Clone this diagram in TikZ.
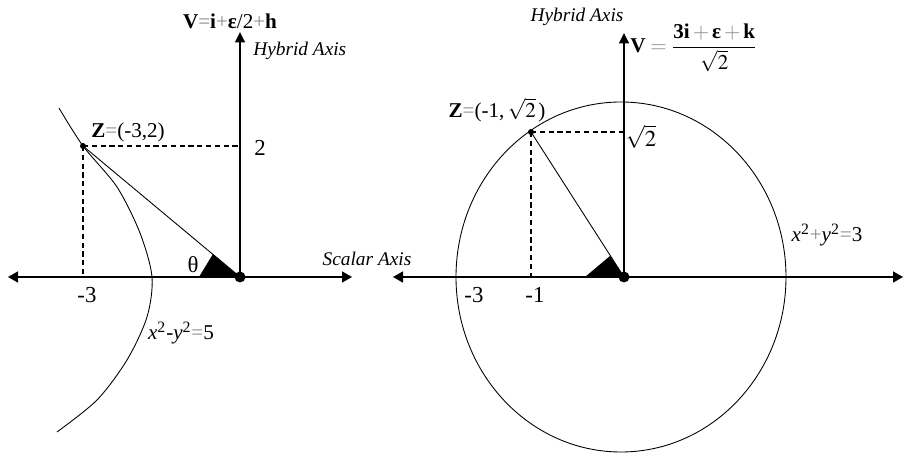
\documentclass[tikz,border=0pt]{standalone}
\usepackage{mathptmx}
\usepackage[no-math]{fontspec}
\setmainfont{Liberation Serif}
\usepackage{xcolor}
\usetikzlibrary{arrows.meta}
\definecolor{eqgray}{gray}{0.55}
\newcommand{\eqs}{\textcolor{eqgray}{=}}
\newcommand{\pls}{\textcolor{eqgray}{+}}
\tikzset{
  axisline/.style={{Triangle[length=2mm,width=2.2mm]}-{Triangle[length=2mm,width=2.2mm]}, line width=0.85pt},
  upaxis/.style={-{Triangle[length=2.1mm,width=2mm]}, line width=1pt},
  guide/.style={line width=0.6pt, dash pattern=on 3pt off 2pt},
  conic/.style={line width=0.5pt},
  axlabel/.style={font=\fontsize{11}{12}\selectfont\itshape, inner sep=0pt},
  numlabel/.style={font=\fontsize{13}{15}\selectfont, inner sep=0pt},
  ptlabel/.style={font=\fontsize{12}{14}\selectfont, inner sep=0pt},
  dot/.style={circle, fill, inner sep=0pt, minimum size=#1}
}

\begin{document}
\begin{tikzpicture}[x=0.2mm, y=0.2mm]
  \useasboundingbox (0,0) rectangle (910,454);
  % left: hyperbola
  \begin{scope}[shift={(240,177)}]
    \coordinate (O1) at (0,0);
    \coordinate (Z1) at (-157,131);
    \coordinate (Zx1) at (-157,0);
    \coordinate (Zy1) at (0,131);
    \coordinate (W1) at (-232,0);
    \coordinate (E1) at (112,0);
    \coordinate (N1) at (0,245);
    \draw[conic] plot[smooth] coordinates {(-181,169) (-157,131) (-123,90) (-100,44) (-88,0) (-93,-40) (-113,-83) (-143,-123) (-183,-155)};
    \fill (O1) -- (-41,0) -- (-27,23) -- cycle;
    \draw[guide] (Z1) -- (Zy1);
    \draw[guide] (Z1) -- (Zx1);
    \draw[conic] (Z1) -- (O1);
    \draw[axisline] (W1) -- (E1);
    \draw[upaxis] (O1) -- (N1);
    \node[dot=2.2mm] (o1) at (O1) {};
    \node[dot=1.2mm] (z1) at (Z1) {};
    \node[ptlabel] (v1) at (-10,256) {\textbf{V}\eqs\textbf{i}\pls\textbf{ε}/2\pls\textbf{h}};
    \node[axlabel, anchor=west] (hy1) at (13,226) {Hybrid Axis};
    \node[numlabel] (two1) at (20,129) {2};
    \node[ptlabel] (zl1) at (-112,145) {\textbf{Z}\eqs(-3,2)};
    \node[axlabel] (sc1) at (127,18) {Scalar Axis};
    \node[numlabel] (m31) at (-153,-18) {-3};
    \node[ptlabel] (eq1) at (-59,-56) {\textit{x}\textsuperscript{2}-\textit{y}\textsuperscript{2}\eqs5};
    \node[numlabel] (th1) at (-47,12) {θ};
  \end{scope}
  % right: circle
  \begin{scope}[shift={(624,177)}]
    \coordinate (O2) at (0,0);
    \coordinate (Z2) at (-93,145);
    \coordinate (Zx2) at (-93,0);
    \coordinate (Zy2) at (0,145);
    \coordinate (W2) at (-231,0);
    \coordinate (E2) at (279,0);
    \coordinate (N2) at (0,244);
    \draw[conic] (-3,0) ellipse [x radius=165, y radius=175];
    \fill (O2) -- (-39,0) -- (-14,21) -- cycle;
    \draw[guide] (Z2) -- (Zy2);
    \draw[guide] (Z2) -- (Zx2);
    \draw[conic] (Z2) -- (O2);
    \draw[axisline] (W2) -- (E2);
    \draw[upaxis] (O2) -- (N2);
    \node[dot=2.2mm] (o2) at (O2) {};
    \node[dot=1.2mm] (z2) at (Z2) {};
    \node[axlabel] (hy2) at (-47,260) {Hybrid Axis};
    \node[ptlabel, anchor=west] (v2) at (6,229)
      {\(\textbf{V}\mathrel{\eqs}\displaystyle\frac{\textbf{3i}\mathbin{\pls}\textbf{ε}\mathbin{\pls}\textbf{k}}{\sqrt{2}}\)};
    \node[ptlabel] (zl2) at (-127,167) {\textbf{Z}\eqs(-1,\,\(\sqrt{2}\,\))};
    \node[numlabel] (rt2) at (17,140) {\(\sqrt{2}\)};
    \node[ptlabel] (eq2) at (203,42) {\textit{x}\textsuperscript{2}\pls\textit{y}\textsuperscript{2}\eqs3};
    \node[numlabel] (m32) at (-150,-18) {-3};
    \node[numlabel] (m12) at (-89,-18) {-1};
  \end{scope}
\end{tikzpicture}
\end{document}
